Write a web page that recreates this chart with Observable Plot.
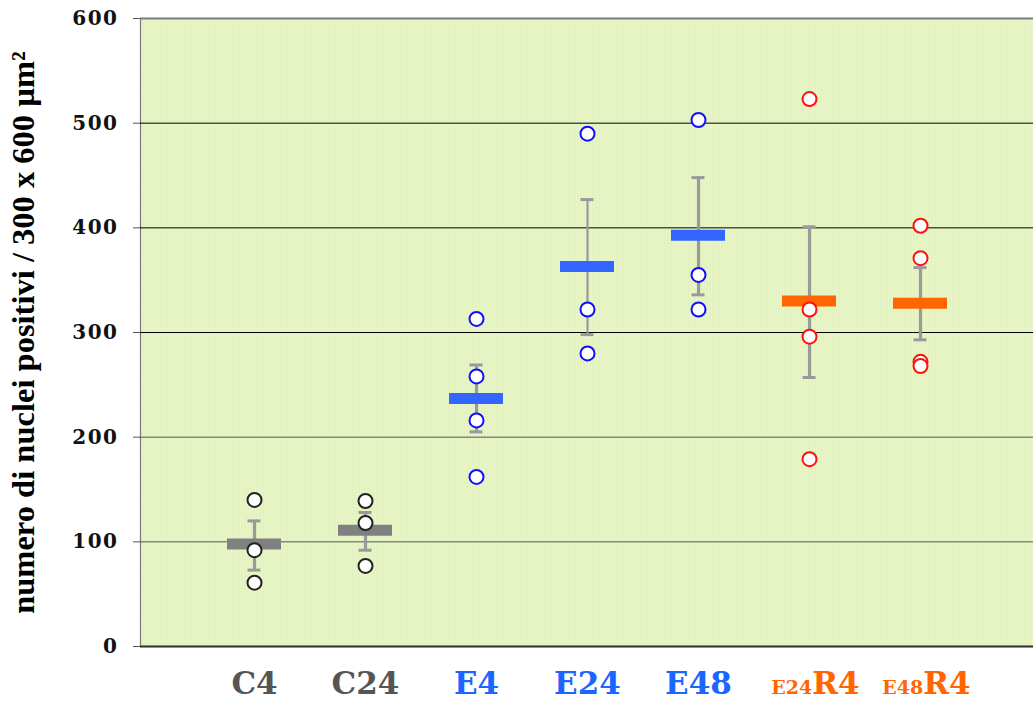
<!DOCTYPE html>
<html>
<head>
<meta charset="utf-8">
<script src="https://cdn.jsdelivr.net/npm/d3@7"></script>
<script src="https://cdn.jsdelivr.net/npm/@observablehq/plot@0.6"></script>
<style>
  html, body { margin: 0; padding: 0; background: #ffffff; }
  #chart svg { display: block; }
</style>
</head>
<body>
<div id="chart"></div>
<script>
// ---- data ----
const groups = ["C4", "C24", "E4", "E24", "E48", "E24R4", "E48R4"];
const family = ["C", "C", "E", "E", "E", "R", "R"];
const means = [98, 111, 237, 363, 393, 330, 328];
const errLow = [73, 92, 205, 298, 336, 257, 293];
const errHigh = [120, 128, 269, 427, 448, 401, 362];

const pointGroup = [
  "C4", "C4", "C4",
  "C24", "C24", "C24",
  "E4", "E4", "E4", "E4",
  "E24", "E24", "E24",
  "E48", "E48", "E48",
  "E24R4", "E24R4", "E24R4", "E24R4",
  "E48R4", "E48R4", "E48R4", "E48R4"
];
const pointValue = [
  140, 92, 61,
  139, 118, 77,
  313, 258, 216, 162,
  490, 322, 280,
  503, 355, 322,
  523, 322, 296, 179,
  402, 371, 272, 268
];
const yTicks = [0, 100, 200, 300, 400, 500, 600];
const gridValues = [100, 200, 300, 400, 500];
const yTitle = "numero di nuclei positivi / 300 x 600 µm²";

// ---- styles ----
const barColor = {C: "#808080", E: "#3366ff", R: "#ff6600"};
const dotColor = {C: "#222222", E: "#1010ff", R: "#ff1010"};
const labelColor = {C: "#555555", E: "#1a66ff", R: "#ff6600"};

const summary = groups.map((g, i) => ({g, f: family[i], mean: means[i], lo: errLow[i], hi: errHigh[i]}));
const points = pointGroup.map((g, i) => ({g, f: family[groups.indexOf(g)], v: pointValue[i]}));

const chart = Plot.plot({
  width: 1033,
  height: 704,
  marginLeft: 140,
  marginRight: 0,
  marginTop: 18,
  marginBottom: 58,
  style: {background: "transparent", overflow: "visible"},
  x: {type: "band", domain: groups, paddingInner: 0.516, paddingOuter: 0.758, align: 0.5, label: null},
  y: {domain: [0, 600], label: null},
  marks: [
    Plot.frame({fill: "url(#bgstripes)", stroke: "#777777", strokeWidth: 1.2, insetRight: -3}),
    Plot.ruleY(gridValues, {stroke: d => d <= 200 ? "#555555" : "#000000", strokeWidth: 1}),
    Plot.ruleY([600], {stroke: "#808080", strokeWidth: 2}),
    Plot.ruleY([0], {stroke: "#333333", strokeWidth: 2}),
    Plot.ruleX(summary, {x: "g", y1: "lo", y2: "hi", stroke: "#9a9a9a", strokeWidth: d => d.g === "E24" ? 2.2 : 3.2}),
    Plot.tickY(summary, {x: "g", y: "lo", stroke: "#9a9a9a", strokeWidth: 3, insetLeft: 20.5, insetRight: 20.5}),
    Plot.tickY(summary, {x: "g", y: "hi", stroke: "#9a9a9a", strokeWidth: 3, insetLeft: 20.5, insetRight: 20.5}),
    Plot.tickY(summary, {x: "g", y: "mean", stroke: d => barColor[d.f], strokeWidth: 11}),
    Plot.dot(points, {x: "g", y: "v", r: 7, fill: "#ffffff", stroke: d => dotColor[d.f], strokeWidth: 2}),
    Plot.axisY({
      ticks: yTicks, tickSize: 7, tickPadding: 15, stroke: "#555555",
      tickFormat: d => String(d), label: null,
      fontSize: 20, fontFamily: "DejaVu Serif", fontWeight: "bold"
    }),
    Plot.axisX({tickSize: 0, tickPadding: 25, label: null, fontSize: 31, fontFamily: "DejaVu Serif", fontWeight: "bold"}),
    Plot.text([yTitle], {
      frameAnchor: "left", rotate: -90, dx: -117, textAnchor: "middle", lineAnchor: "middle",
      fontSize: 31, fontFamily: "Liberation Serif", fontWeight: "bold", fill: "#000000"
    })
  ]
});

// background stripe pattern
const svg = d3.select(chart);
const defs = svg.insert("defs", ":first-child");
const pat = defs.append("pattern").attr("id", "bgstripes").attr("patternUnits", "userSpaceOnUse")
  .attr("width", 3).attr("height", 3);
pat.append("rect").attr("width", 3).attr("height", 3).attr("fill", "#e8f5c6");
pat.append("rect").attr("x", 1).attr("width", 1).attr("height", 3).attr("fill", "#ddedb6");
pat.append("rect").attr("x", 0).attr("y", 1).attr("width", 3).attr("height", 1).attr("fill", "#ebf7cd").attr("opacity", 0.5);

// letter spacing on y tick labels
svg.selectAll('g[aria-label="y-axis tick label"] text').attr("letter-spacing", "1.5px").attr("fill", "#111");

// style x tick labels with colours and sub-labels
svg.selectAll('g[aria-label="x-axis tick label"] text').each(function(d) {
  const t = d3.select(this);
  const g = typeof d === "string" ? d : t.text();
  const f = family[groups.indexOf(g)];
  t.attr("fill", labelColor[f]).text(null);
  if (f === "R") {
    const pre = g.slice(0, 3), post = g.slice(3);
    t.append("tspan").attr("font-size", 19).text(pre);
    t.append("tspan").text(post);
    t.attr("dx", 6);
  } else {
    t.text(g);
  }
});

document.getElementById("chart").appendChild(chart);

// fit the y title to the reference length
svg.selectAll('g[aria-label="text"] text').each(function() {
  const len = this.getComputedTextLength();
  if (len > 0) {
    const fs = 31 * 563 / len;
    d3.select(this).attr("font-size", Math.min(fs, 34));
  }
});
</script>
</body>
</html>
